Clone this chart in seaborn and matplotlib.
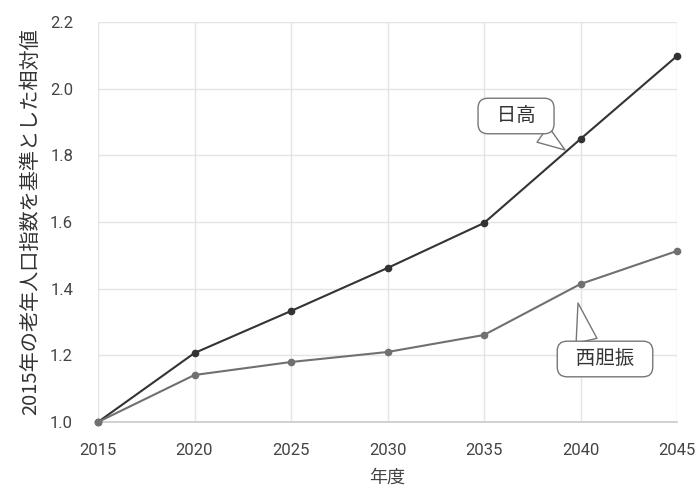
import matplotlib
matplotlib.use("Agg")
import matplotlib.pyplot as plt
import seaborn as sns
import pandas as pd

years = [2015, 2020, 2025, 2030, 2035, 2040, 2045]
hidaka = [1.0, 1.207, 1.333, 1.462, 1.597, 1.849, 2.098]
nishiiburi = [1.0, 1.141, 1.180, 1.210, 1.261, 1.414, 1.513]
series_names = ["日高", "西胆振"]
y_ticks = [1.0, 1.2, 1.4, 1.6, 1.8, 2.0, 2.2]

df = pd.DataFrame({
    "年度": years * 2,
    "値": hidaka + nishiiburi,
    "地域": [series_names[0]] * len(years) + [series_names[1]] * len(years),
})

sns.set_theme(style="whitegrid")
plt.rcParams["font.family"] = ["Roboto", "Noto Sans CJK JP", "DejaVu Sans"]

fig = plt.figure(figsize=(6.98, 4.93), dpi=100)
ax = fig.add_axes([98 / 698, 1 - 422 / 493, (677 - 98) / 698, 400 / 493])

sns.lineplot(data=df, x="年度", y="値", hue="地域",
             palette={"日高": "#333333", "西胆振": "#707070"},
             marker="o", markersize=5.5, markeredgewidth=0, linewidth=1.5,
             ax=ax, legend=False)
for ln in ax.lines:
    ln.set_clip_on(False)
    ln.set_zorder(3)

ax.set_xlim(2015, 2045)
ax.set_ylim(1.0, 2.2)
ax.set_xticks(years)
ax.set_yticks(y_ticks)
ax.set_yticklabels([f"{v:.1f}" for v in y_ticks])
ax.tick_params(axis="both", labelsize=12, colors="#444444")
ax.tick_params(axis="x", pad=9)
ax.tick_params(axis="y", pad=12)
ax.set_xlabel("年度", fontsize=13, color="#444444", labelpad=8,
              family=["Noto Sans CJK JP"])
ax.set_ylabel("2015年の老年人口指数を基準とした相対値", fontsize=14.5, color="#333333",
              labelpad=6, family=["Noto Sans CJK JP"])
ax.grid(True, color="#e4e4e4", linewidth=1)
for s in ["top", "right", "left"]:
    ax.spines[s].set_visible(False)
ax.spines["bottom"].set_visible(True)
ax.spines["bottom"].set_color("#cccccc")

box = dict(boxstyle="round,pad=0.45,rounding_size=0.5", fc="white", ec="#777777", lw=1)
ax.annotate("  " + series_names[0] + "  ", xy=(2039.2, 1.816), xytext=(2036.66, 1.918),
            fontsize=14, color="#333333", ha="center", va="center", bbox=box,
            zorder=5,
            arrowprops=dict(arrowstyle="wedge,tail_width=1.0,shrink_factor=0.5",
                            fc="white", ec="#777777", lw=1, relpos=(0.73, 0.0),
                            shrinkA=0, shrinkB=0))
ax.annotate("  " + series_names[1] + "  ", xy=(2039.87, 1.357), xytext=(2041.27, 1.189),
            fontsize=14, color="#333333", ha="center", va="center", bbox=box,
            zorder=5,
            arrowprops=dict(arrowstyle="wedge,tail_width=1.1,shrink_factor=0.5",
                            fc="white", ec="#777777", lw=1, relpos=(0.29, 1.0),
                            shrinkA=0, shrinkB=0))

fig.savefig("out.png", dpi=100)
